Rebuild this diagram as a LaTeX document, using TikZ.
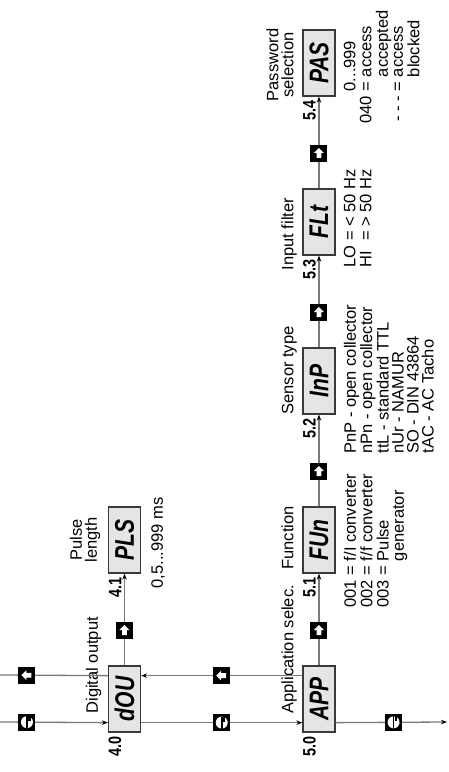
\documentclass[tikz,border=0pt]{standalone}
\usepackage{fontspec}
\setmainfont{Liberation Sans}
\newfontfamily\segfont{Liberation Sans}[FakeStretch=0.78]
\newfontfamily\numfont{Liberation Sans}[FakeStretch=0.8]
\usepackage{tikz}
\usetikzlibrary{positioning,arrows.meta,calc}
\definecolor{LineGrey}{HTML}{7A7A7A}
\definecolor{DisplayFill}{HTML}{E5E5E5}
\definecolor{DisplayEdge}{HTML}{3A3A3A}

% white key symbols on a black key square
\newcommand{\keyright}[1]{\fill[white] (#1.center) ++(5.5,0) -- ++(-5,5) -- ++(0,-2.6) -- ++(-5,0) -- ++(0,-4.8) -- ++(5,0) -- ++(0,-2.6) -- cycle;}
\newcommand{\keyup}[1]{\fill[white] (#1.center) ++(0,5.5) -- ++(-5,-5) -- ++(2.6,0) -- ++(0,-5) -- ++(4.8,0) -- ++(0,5) -- ++(2.6,0) -- cycle;}
\newcommand{\keyenter}[1]{\fill[white] (#1.center) circle[radius=6];
  \draw[black, line width=1.6pt] (#1.center) ++(-6,0) -- ++(12,0);
  \fill[black] (#1.center) ++(1,-1.3) rectangle ++(5.5,-2.4);}

\begin{document}
\begin{tikzpicture}[x=1pt, y=1pt,
    display/.style={draw=DisplayEdge, line width=1.3pt, fill=DisplayFill, minimum width=66pt, minimum height=32pt, inner sep=0pt, font=\segfont\bfseries\itshape\fontsize{27}{27}\selectfont},
    keysq/.style={fill=black, minimum size=17pt, inner sep=0pt},
    flow/.style={draw=LineGrey, line width=1.3pt, -{Stealth[length=6pt, width=4.5pt, color=black]}},
    plain/.style={draw=LineGrey, line width=1.3pt},
    param/.style={font=\numfont\bfseries\fontsize{18}{18}\selectfont, inner sep=0pt},
    heading/.style={font=\fontsize{16.5}{15}\selectfont, inner sep=0pt, align=center},
    info/.style={font=\fontsize{16.5}{15}\selectfont, inner sep=0pt, align=left, anchor=north west}
  ]
  \useasboundingbox (-449,0) rectangle (0,772);
  \begin{scope}[rotate=90, transform shape]
    % displays
    \node[display] (dou) at (73,324.5) {dOU};
    \node[display] (pls) at (232,324.5) {PLS};
    \node[display] (app) at (73,130) {APP};
    \node[display] (fun) at (232,130) {FUn};
    \node[display] (inp) at (391,130) {InP};
    \node[display] (flt) at (550,130) {FLt};
    \node[display] (pas) at (709,130) {PAS};

    % parameter numbers
    \node[param, anchor=south east] at ($(dou.west)+(-4,3)$) {4.0};
    \node[param, anchor=south east] at ($(pls.west)+(-4,3)$) {4.1};
    \node[param, anchor=south east] at ($(app.west)+(-4,3)$) {5.0};
    \node[param, anchor=south east] at ($(fun.west)+(-4,3)$) {5.1};
    \node[param, anchor=south east] at ($(inp.west)+(-4,3)$) {5.2};
    \node[param, anchor=south east] at ($(flt.west)+(-4,3)$) {5.3};
    \node[param, anchor=south east] at ($(pas.west)+(-4,3)$) {5.4};

    % headings
    \node[heading, anchor=base west] (h_dou) at ($(dou.north west)+(19,10)$) {Digital output};
    \node[heading, anchor=base] (h_pls) at ($(pls.north)+(0,11)$) {Pulse\\length};
    \node[heading, anchor=base west] (h_app) at ($(app.north west)+(19,9)$) {Application selec.};
    \node[heading, anchor=base west] (h_fun) at ($(fun.north west)+(4,9)$) {Function};
    \node[heading, anchor=base west] (h_inp) at ($(inp.north west)+(0,9)$) {Sensor type};
    \node[heading, anchor=base west] (h_flt) at ($(flt.north west)+(-15,9)$) {Input filter};
    \node[heading, anchor=base] (h_pas) at ($(pas.north)+(-2,9)$) {Password\\selection};

    % settings
    \node[info, anchor=north] (s_pls) at ($(pls.south)+(-3,-10)$) {0,5...999 ms};
    \node[info] (s_fun) at ($(fun.south west)+(-34,-8)$) {%
      \begin{tabular}{@{}l@{ }l@{}}
        001 & = f/I converter\\
        002 & = f/f converter\\
        003 & = Pulse\\
            & \hphantom{= }generator
      \end{tabular}};
    \node[info] (s_inp) at ($(inp.south west)+(-39,-8)$) {PnP - open collector\\ nPn - open collector\\ ttL - standard TTL\\ nUr - NAMUR\\ SO - DIN 43864\\ tAC - AC Tacho};
    \node[info] (s_flt) at ($(flt.south west)+(-12,-8)$) {%
      \begin{tabular}{@{}l@{ }l@{}}
        LO & = < 50 Hz\\
        HI & = > 50 Hz
      \end{tabular}};
    \node[info] (s_pas) at ($(pas.south west)+(-27,-8)$) {%
      \begin{tabular}{@{}r@{ }l@{}}
              & 0...999\\
        040   & = access\\
              & \hphantom{= }accepted\\
        - - - & = access\\
              & \hphantom{= }blocked
      \end{tabular}};

    % parameter flow
    \draw[flow] (dou) -- node[keysq, pos=0.38] (k_dou) {} (pls);
    \draw[flow] (app) -- node[keysq, pos=0.38] (k_app) {} (fun);
    \draw[flow] (fun) -- node[keysq, pos=0.38] (k_fun) {} (inp);
    \draw[flow] (inp) -- node[keysq, pos=0.38] (k_inp) {} (flt);
    \draw[flow] (flt) -- node[keysq, pos=0.38] (k_flt) {} (pas);

    % menu lines
    \coordinate (e_in) at (50,449);
    \coordinate (e_out) at (50,2);
    \coordinate (u_out) at (97,449);
    \coordinate (dou_e1) at ($(dou.north west)+(10,0)$);
    \coordinate (dou_e2) at ($(dou.south west)+(10,0)$);
    \coordinate (app_e1) at ($(app.north west)+(10,0)$);
    \coordinate (app_e2) at ($(app.south west)+(10,0)$);
    \coordinate (dou_u1) at ($(dou.north west)+(57,0)$);
    \coordinate (dou_u2) at ($(dou.south west)+(57,0)$);
    \coordinate (app_u1) at ($(app.north west)+(57,0)$);

    \draw[flow] (e_in) -- node[keysq, pos=0.25] (k_e1) {} (dou_e1);
    \draw[flow] (dou_e2) -- node[keysq, pos=0.5] (k_e2) {} (app_e1);
    \draw[flow] (app_e2) -- node[keysq, pos=0.52] (k_e3) {} (e_out);
    \draw[plain] (dou_u1) -- node[keysq, pos=0.75] (k_u1) {} (u_out);
    \draw[flow] (app_u1) -- node[keysq, pos=0.5] (k_u2) {} (dou_u2);

    % key symbols
    \keyright{k_dou} \keyright{k_app} \keyright{k_fun} \keyright{k_inp} \keyright{k_flt}
    \keyup{k_u1} \keyup{k_u2}
    \keyenter{k_e1} \keyenter{k_e2} \keyenter{k_e3}
  \end{scope}
\end{tikzpicture}
\end{document}
